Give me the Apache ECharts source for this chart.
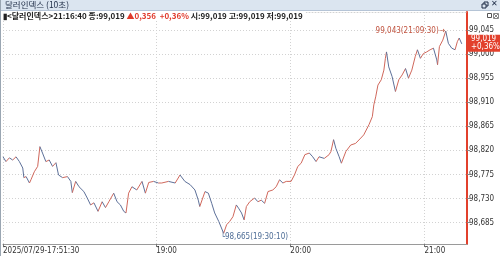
<!DOCTYPE html>
<html><head><meta charset="utf-8">
<script src="https://cdn.jsdelivr.net/npm/echarts@6/dist/echarts.min.js"></script>
<style>html,body{margin:0;padding:0;background:#fff}#c{width:500px;height:256px}</style>
</head><body><div id="c"></div>
<script>
// ---- data ----
const times = ['17:51:30','17:52:50','17:54:20','17:55:50','17:57:20','17:58:50','18:00:20','18:00:50','18:01:50','18:03:20','18:04:00','18:05:30','18:07:00','18:08:00','18:09:10','18:10:40','18:12:10','18:13:40','18:15:10','18:16:20','18:18:10','18:20:20','18:21:50','18:22:30','18:24:00','18:25:30','18:27:40','18:29:10','18:30:40','18:32:10','18:34:00','18:35:50','18:37:20','18:38:50','18:41:00','18:42:30','18:44:00','18:45:30','18:46:30','18:47:40','18:49:10','18:51:20','18:53:40','18:55:10','18:56:40','18:58:50','19:01:00','19:02:30','19:05:30','19:08:30','19:10:40','19:12:50','19:15:10','19:17:20','19:18:50','19:19:30','19:21:50','19:23:20','19:24:50','19:26:10','19:28:00','19:30:10','19:31:30','19:32:50','19:34:20','19:35:50','19:36:50','19:38:10','19:39:20','19:40:20','19:41:50','19:44:00','19:45:30','19:47:00','19:48:30','19:50:00','19:52:10','19:53:40','19:55:10','19:56:40','19:58:10','20:00:20','20:01:50','20:03:20','20:04:50','20:06:30','20:08:30','20:10:00','20:11:30','20:12:50','20:15:10','20:17:20','20:18:10','20:19:20','20:20:20','20:21:50','20:22:50','20:24:50','20:27:00','20:29:10','20:31:30','20:32:50','20:35:10','20:36:40','20:37:20','20:38:10','20:39:10','20:40:40','20:41:50','20:42:30','20:43:00','20:44:00','20:45:30','20:47:00','20:48:30','20:50:00','20:51:30','20:52:50','20:54:20','20:55:50','20:56:50','20:58:10','20:59:30','21:01:00','21:02:30','21:04:00','21:05:30','21:05:50','21:06:40','21:08:10','21:09:30','21:10:40','21:12:10','21:13:40','21:14:40','21:15:30','21:16:40'];
const values = [98.808,98.799,98.806,98.802,98.808,98.799,98.787,98.769,98.771,98.759,98.765,98.780,98.790,98.827,98.815,98.799,98.802,98.790,98.797,98.774,98.769,98.771,98.762,98.741,98.762,98.752,98.743,98.731,98.718,98.722,98.706,98.724,98.713,98.724,98.740,98.724,98.718,98.706,98.703,98.740,98.752,98.746,98.762,98.740,98.760,98.762,98.759,98.759,98.762,98.759,98.774,98.762,98.756,98.746,98.727,98.715,98.743,98.740,98.721,98.703,98.687,98.665,98.681,98.687,98.696,98.718,98.712,98.703,98.690,98.715,98.724,98.731,98.724,98.727,98.721,98.743,98.746,98.752,98.765,98.759,98.762,98.762,98.774,98.790,98.796,98.812,98.815,98.808,98.799,98.808,98.805,98.812,98.818,98.840,98.824,98.808,98.796,98.818,98.830,98.833,98.843,98.849,98.868,98.883,98.905,98.920,98.942,98.952,98.970,98.992,99.004,98.976,98.958,98.930,98.952,98.961,98.973,98.955,98.970,98.995,99.008,98.992,99.001,99.004,99.008,99.011,98.989,98.980,99.014,99.026,99.043,99.020,99.011,99.008,99.023,99.030,99.019];
const yTicks = [98.685,98.730,98.775,98.820,98.865,98.910,98.955,99.000,99.045];
const xTickTimes = ['17:51:30','19:00:00','20:00:00','21:00:00'];
const xRange = ['17:51:30','21:19:00'];
const yRange = [98.645, 99.0786];
const dateText = '2025/07/29';
const titleText = '달러인덱스 (10초)';
const instName = '달러인덱스';
const lastTime = '21:16:40';
const lastPrice = 99.019;
const changeVal = 0.356;
const changePct = 0.36;
const openP = 99.019, highP = 99.019, lowP = 99.019;

// ---- helpers ----
const toSec = s => { const p = s.split(':').map(Number); return p[0]*3600 + p[1]*60 + p[2]; };
const pad = n => String(n).padStart(2,'0');
const fmt = v => v.toFixed(3).replace('.', ',');
const fmt2 = v => v.toFixed(2).replace('.', ',');
const secs = times.map(toSec);
const xMin = toSec(xRange[0]), xMax = toSec(xRange[1]);
const xTickVals = xTickTimes.map(toSec);
const segData = secs.map((t,i) => [t, values[i], i ? secs[i-1] : t, i ? values[i-1] : values[i]]);
let iMax = 0, iMin = 0;
values.forEach((v,i) => { if (v > values[iMax]) iMax = i; if (v < values[iMin]) iMin = i; });

const UP = '#d0685c', DOWN = '#5d7099';
const NARROW = "'Liberation Sans Narrow','Arial Narrow','DejaVu Sans Condensed',sans-serif";
const KR = "'Noto Sans CJK KR','Noto Sans',sans-serif";

const chart = echarts.init(document.getElementById('c'), null, {renderer:'canvas'});
chart.setOption({
  animation: false,
  backgroundColor: '#fff',
  grid: {left: 0, right: 33, top: 12, bottom: 12, containLabel: false},
  title: {
    left: 1, top: 11, padding: [1, 3, 1, 2], backgroundColor: '#fff',
    text: '{k|▮<' + instName + '>' + lastTime + ' 종:' + fmt(lastPrice) + ' }{r|▲' + fmt(changeVal) + '  +' + fmt2(changePct) + '%}{k| 시:' + fmt(openP) + ' 고:' + fmt(highP) + ' 저:' + fmt(lowP) + '}',
    textStyle: {
      rich: {
        k: {fontSize: 8, color: '#222', fontFamily: KR},
        r: {fontSize: 8, color: '#e0392b', fontFamily: KR}
      }
    }
  },
  xAxis: [{
    type: 'value', min: xMin, max: xMax,
    axisLine: {show: true, lineStyle: {color: '#9a9a9a', width: 1}},
    axisTick: {show: true, customValues: xTickVals, length: 3, lineStyle: {color: '#777'}},
    axisLabel: {
      customValues: xTickVals, align: 'left', margin: 3, fontSize: 8, color: '#333', fontFamily: NARROW,
      formatter: v => {
        const h = Math.floor(v/3600), m = Math.floor(v%3600/60), s = v%60;
        return v === xMin ? dateText + '-' + pad(h) + ':' + pad(m) + ':' + pad(s) : pad(h) + ':' + pad(m);
      }
    },
    splitLine: {show: true, lineStyle: {color: '#d2d2d2', type: [1, 2]}}
  }, {
    type: 'value', position: 'top', min: xMin, max: xMax,
    axisLine: {show: true, lineStyle: {color: '#d2d2d2', type: [1, 2]}},
    axisTick: {show: false}, axisLabel: {show: false}, splitLine: {show: false}
  }],
  yAxis: {
    type: 'value', position: 'right', min: yRange[0], max: yRange[1],
    axisLine: {show: true, lineStyle: {color: '#e2402c', width: 2}},
    axisTick: {show: true, customValues: yTicks, length: 3, lineStyle: {color: '#888'}},
    axisLabel: {customValues: yTicks, formatter: v => fmt(v), margin: 2, fontSize: 8, color: '#333', fontFamily: NARROW},
    splitLine: {show: true, lineStyle: {color: '#d2d2d2', type: [1, 2]}}
  },
  graphic: [
    {type: 'rect', z: 100, shape: {x: 0, y: 0, width: 500, height: 10}, style: {fill: '#dbe5f0'}},
    {type: 'line', z: 100, shape: {x1: 0, y1: 10.5, x2: 500, y2: 10.5}, style: {stroke: '#b5c4d6', lineWidth: 1}},
    {type: 'text', z: 101, x: 5, y: 1, style: {text: titleText, fontSize: 8.5, fill: '#1d2b45', fontFamily: KR}},
    {type: 'rect', z: 101, shape: {x: 484, y: 2, width: 4, height: 4}, style: {fill: 'none', stroke: '#1d2b45', lineWidth: 1}},
    {type: 'rect', z: 101, shape: {x: 482, y: 4, width: 4, height: 4}, style: {fill: '#dbe5f0', stroke: '#1d2b45', lineWidth: 1}},
    {type: 'text', z: 101, x: 491, y: 0, style: {text: '✕', fontSize: 8, fontWeight: 'bold', fill: '#1d2b45', fontFamily: 'DejaVu Sans'}},
    {type: 'rect', z: 101, shape: {x: 487.5, y: 13.5, width: 4, height: 4}, style: {fill: 'none', stroke: '#555', lineWidth: 1}},
    {type: 'rect', z: 101, shape: {x: 493.5, y: 13.5, width: 5, height: 5}, style: {fill: 'none', stroke: '#888', lineWidth: 1}},
    {type: 'line', z: 101, shape: {x1: 494, y1: 14, x2: 498, y2: 18}, style: {stroke: '#888'}},
    {type: 'line', z: 101, shape: {x1: 498, y1: 14, x2: 494, y2: 18}, style: {stroke: '#888'}},
    {type: 'line', z: 101, shape: {x1: 0.5, y1: 0, x2: 0.5, y2: 256}, style: {stroke: '#9aa6b2', lineWidth: 1}}
  ],
  series: [{
    type: 'custom',
    clip: false,
    data: segData,
    encode: {x: [0, 2], y: [1, 3]},
    renderItem: (params, api) => {
      const p1 = api.coord([api.value(2), api.value(3)]);
      const p2 = api.coord([api.value(0), api.value(1)]);
      return {type: 'line', shape: {x1: p1[0], y1: p1[1], x2: p2[0], y2: p2[1]},
        style: {stroke: api.value(1) >= api.value(3) ? UP : DOWN, lineWidth: 1}};
    },
    markPoint: {
      silent: true,
      symbol: 'circle', symbolSize: 0,
      data: [
        {coord: [secs[iMax], values[iMax]],
         label: {show: true, position: 'left', distance: 1, formatter: fmt(values[iMax]) + '(' + times[iMax] + ')→',
                 fontSize: 8, color: '#c0533f', fontFamily: NARROW}},
        {coord: [secs[iMin], values[iMin]],
         label: {show: true, position: 'bottom', align: 'left', distance: 0, offset: [-3, 0], formatter: '└' + fmt(values[iMin]) + '(' + times[iMin] + ')',
                 fontSize: 8, color: '#4e6d96', fontFamily: NARROW}}
      ]
    },
    markLine: {
      silent: true, symbol: ['none', 'none'],
      lineStyle: {width: 0, color: 'rgba(0,0,0,0)'},
      data: [{yAxis: lastPrice}],
      label: {show: true, position: 'end', distance: 1,
        formatter: fmt(lastPrice) + '\n+' + fmt2(changePct) + '%',
        backgroundColor: '#e2402c', color: '#fff', padding: [1, 3, 0, 3],
        fontSize: 8, lineHeight: 8, align: 'left', fontFamily: NARROW}
    }
  }]
});
</script></body></html>
